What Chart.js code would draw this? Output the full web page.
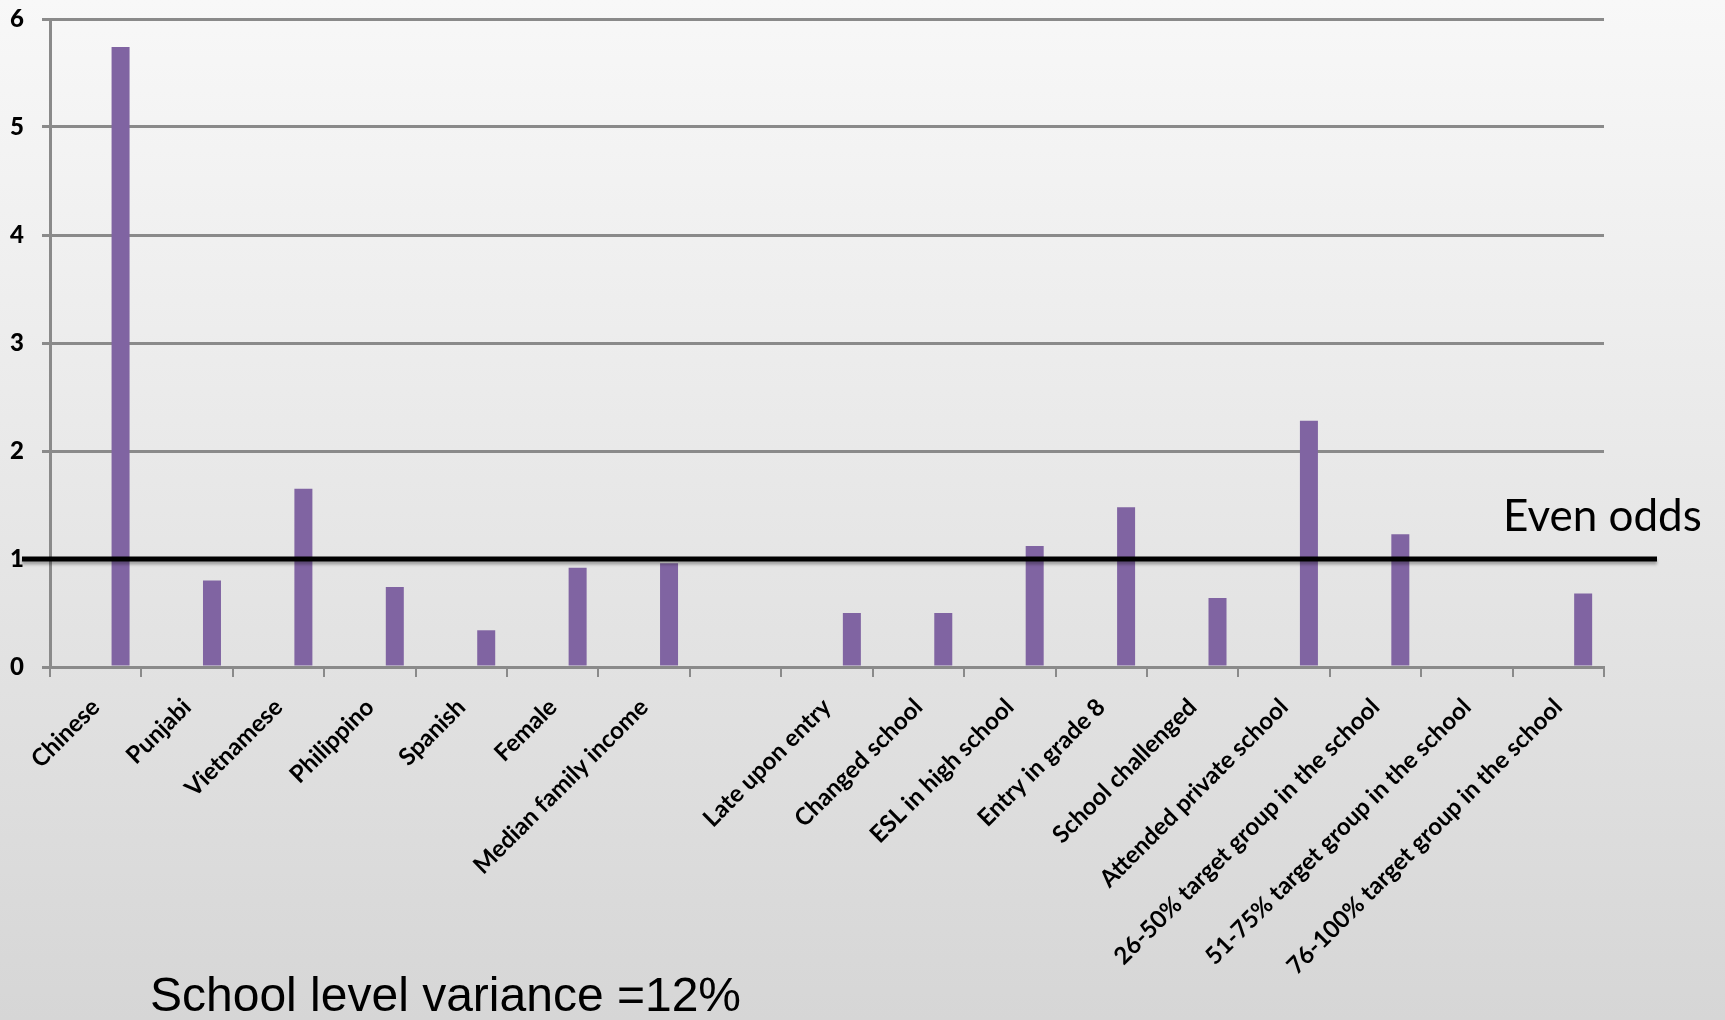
<!DOCTYPE html>
<html>
<head>
<meta charset="utf-8">
<title>Odds ratios</title>
<script src="https://cdn.jsdelivr.net/npm/chart.js"></script>
<style>
  html, body { margin: 0; padding: 0; }
  body { width: 1725px; height: 1020px; overflow: hidden; }
  .oh-slide {
    position: relative;
    width: 1725px;
    height: 1020px;
    background: linear-gradient(to bottom, #f8f8f8 0%, #d6d6d6 100%);
  }
  #oddsChart { position: absolute; left: 0; top: 0; }
  .oh-note { position: absolute; white-space: nowrap; color: #000; }
  #evenOdds { left: 1503px; top: 492px; font: 44px/44px Lato, sans-serif; }
  #variance { left: 150px; top: 971px; font: 48px/48px "Liberation Sans", Arial, sans-serif; }
</style>
</head>
<body>
<div class="oh-slide">
  <canvas id="oddsChart" width="1725" height="1020"></canvas>
  <div class="oh-note" id="evenOdds">Even odds</div>
  <div class="oh-note" id="variance">School level variance =12%</div>
</div>
<script>
// Categories along the x axis (one slot is left empty in the original)
const categories = [
  "Chinese",
  "Punjabi",
  "Vietnamese",
  "Philippino",
  "Spanish",
  "Female",
  "Median family income",
  "",
  "Late upon entry",
  "Changed school",
  "ESL in high school",
  "Entry in grade 8",
  "School challenged",
  "Attended private school",
  "26-50% target group in the school",
  "51-75% target group in the school",
  "76-100% target group in the school",
];

// Odds ratios (null = no bar)
const oddsRatios = [5.74, 0.80, 1.65, 0.74, 0.34, 0.92, 0.96, null, 0.50, 0.50, 1.12, 1.48, 0.64, 2.28, 1.23, null, 0.68];

// Two unused series in the original chart: they keep the bar to the right of each slot
const spacerA = [];
const spacerB = [];

const yTicks = [0, 1, 2, 3, 4, 5, 6];
const evenOdds = 1;

const gridGrey = "#8a8a8a";
const barPurple = "#8064a2";

// Black "even odds" reference line, drawn over the bars
const evenOddsLine = {
  id: "evenOddsLine",
  afterDatasetsDraw(chart) {
    const { ctx, chartArea, scales } = chart;
    const y = scales.y.getPixelForValue(evenOdds);
    ctx.save();
    ctx.shadowColor = "rgba(0,0,0,0.3)";
    ctx.shadowBlur = 3;
    ctx.shadowOffsetY = 3;
    ctx.strokeStyle = "#000";
    ctx.lineWidth = 5;
    ctx.beginPath();
    ctx.moveTo(chartArea.left - 28, y);
    ctx.lineTo(chartArea.right + 53, y);
    ctx.stroke();
    ctx.restore();
  },
};

function oddsChart() {
  const data = {
    labels: categories,
    datasets: [
      { label: "", data: spacerA },
      { label: "", data: spacerB },
      {
        label: "Odds ratio",
        data: oddsRatios,
        backgroundColor: barPurple,
        borderWidth: 0,
        categoryPercentage: 0.816,
        barPercentage: 0.724,
      },
    ],
  };
  // Create chart using the Chart.js library
  const ctx = document.getElementById("oddsChart").getContext("2d");
  return new Chart(ctx, {
    type: "bar",
    data: data,
    plugins: [evenOddsLine],
    options: {
      responsive: false,
      animation: false,
      layout: { padding: { top: 19, right: 121, left: 0, bottom: 0 } },
      plugins: { legend: { display: false }, tooltip: { enabled: false } },
      scales: {
        x: {
          afterFit: (scale) => {
            scale.height = 353;
            scale.paddingLeft = 0;
            scale.paddingRight = 0;
          },
          grid: {
            display: true,
            drawOnChartArea: false,
            offset: true,
            color: gridGrey,
            lineWidth: 2,
            tickLength: 10,
          },
          border: { color: gridGrey, width: 3 },
          ticks: {
            autoSkip: false,
            minRotation: 45,
            maxRotation: 45,
            padding: 16,
            color: "#000",
            font: { family: "Lato", size: 24, weight: "bold" },
          },
        },
        y: {
          min: 0,
          max: 6,
          afterFit: (scale) => {
            scale.width = 50;
            scale.paddingTop = 0;
            scale.paddingBottom = 0;
          },
          afterBuildTicks: (scale) => { scale.ticks = yTicks.map((v) => ({ value: v })); },
          grid: { color: gridGrey, lineWidth: 3, tickLength: 8 },
          border: { color: gridGrey, width: 3 },
          ticks: {
            padding: 18,
            color: "#000",
            font: { family: "Lato", size: 24, weight: "900" },
          },
        },
      },
    },
  });
}

oddsChart();
</script>
</body>
</html>
